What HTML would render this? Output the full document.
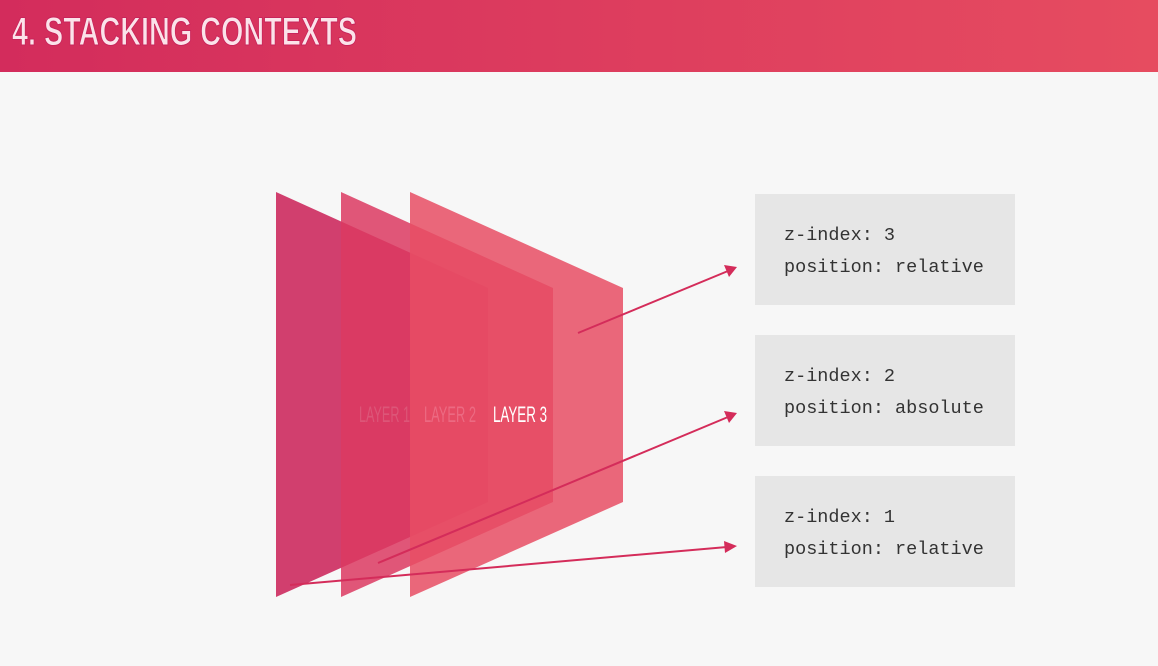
<!DOCTYPE html>
<html><head><meta charset="utf-8"><style>
body{margin:0;width:1158px;height:666px;background:#f7f7f7;overflow:hidden;position:relative;font-family:"Liberation Sans",sans-serif}
.hdr{position:absolute;left:0;top:0;width:1158px;height:72px;background:linear-gradient(90deg,#d32c5c,#e64c60)}
.box{position:absolute;left:755px;width:260px;height:111px;background:#e6e6e6;font-family:"Liberation Mono",monospace;font-size:18.5px;color:#333}
.box div{position:absolute;left:29px}
</style></head><body>
<div class="hdr"></div>
<svg width="1158" height="666" style="position:absolute;left:0;top:0">
<text x="12" y="45" font-family="Liberation Sans" font-weight="bold" font-size="40" fill="#fbe3ea" stroke="#c8245a" stroke-width="1" textLength="345" lengthAdjust="spacingAndGlyphs">4. STACKING CONTEXTS</text>
<polygon points="276,192 488,288 488,502 276,597" fill="#cf3566" opacity="0.95"/>
<polygon points="341,192 553,288 553,502 341,597" fill="#dc3a62" opacity="0.85"/>
<polygon points="410,192 623,288 623,502 410,597" fill="#e84d64" opacity="0.85"/>
<text x="359" y="422" font-family="Liberation Sans" font-size="22" fill="#dc5678" textLength="51" lengthAdjust="spacingAndGlyphs">LAYER 1</text>
<text x="424" y="422" font-family="Liberation Sans" font-size="22" fill="#ec6a82" textLength="52" lengthAdjust="spacingAndGlyphs">LAYER 2</text>
<text x="493" y="422" font-family="Liberation Sans" font-size="22" fill="#ffffff" textLength="54" lengthAdjust="spacingAndGlyphs">LAYER 3</text>
<g stroke="#d42c5a" stroke-width="2" fill="#d42c5a">
<line x1="578" y1="333" x2="728" y2="271"/>
<polygon points="737,267 724,265 729,277" stroke="none"/>
<line x1="378" y1="563" x2="728" y2="417"/>
<polygon points="737,413 724,411 729,423" stroke="none"/>
<line x1="290" y1="585" x2="727" y2="547"/>
<polygon points="737,546 724,541 725,553" stroke="none"/>
</g>
</svg>
<div class="box" style="top:194px"><div style="top:31px">z-index: 3</div><div style="top:63px">position: relative</div></div>
<div class="box" style="top:335px"><div style="top:31px">z-index: 2</div><div style="top:63px">position: absolute</div></div>
<div class="box" style="top:476px"><div style="top:31px">z-index: 1</div><div style="top:63px">position: relative</div></div>
</body></html>
